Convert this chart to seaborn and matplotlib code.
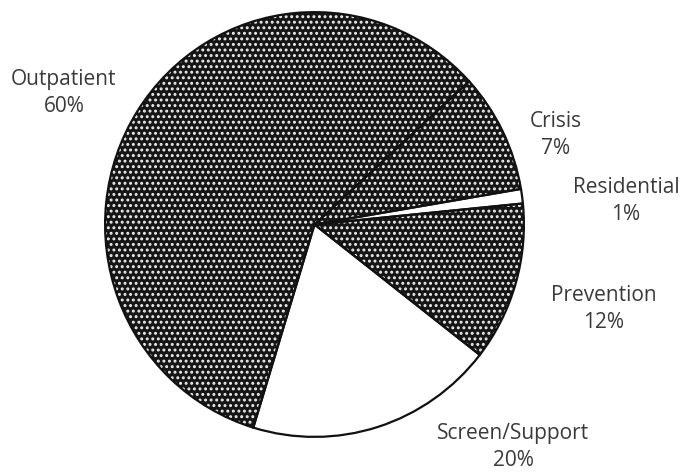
import matplotlib
matplotlib.use('Agg')
import matplotlib.pyplot as plt
import seaborn as sns

categories = ['Outpatient', 'Crisis', 'Residential', 'Prevention', 'Screen/Support']
shares = [58.5, 9.1, 1.1, 12.1, 19.2]
pct_labels = ['60%', '7%', '1%', '12%', '20%']
hatched = [True, True, False, True, False]


def main():
    sns.set_style('white')
    plt.rcParams['font.family'] = ['Open Sans', 'DejaVu Sans']
    plt.rcParams['hatch.linewidth'] = 1.35

    fig = plt.figure(figsize=(6.83, 4.73), dpi=100)
    # pie box in pixels: x 103..526, y 10..439
    ax = fig.add_axes([103 / 683, 34 / 473, 423 / 683, 429 / 473])

    face = ['#161616' if h else 'white' for h in hatched]
    kw = dict(startangle=253, counterclock=False, radius=1)

    ax.pie(shares, colors=face, wedgeprops=dict(linewidth=0), **kw)
    hatch_wedges, _ = ax.pie(shares, colors=face,
                             wedgeprops=dict(facecolor='none', edgecolor='#eeeeee', linewidth=0), **kw)
    for w, h in zip(hatch_wedges, hatched):
        if h:
            w.set_hatch('...')
        else:
            w.set_edgecolor('none')
    ax.pie(shares, wedgeprops=dict(facecolor='none', edgecolor='#111111', linewidth=1.6), **kw)

    ax.set_aspect('auto')
    ax.set_xlim(-1.01, 1.01)
    ax.set_ylim(-1.01, 1.01)

    # label anchors in figure pixels (centre of the two-line text)
    label_pos = [(64, 93), (556, 135), (626, 201), (604, 309), (513, 447)]
    for name, pct, (px, py) in zip(categories, pct_labels, label_pos):
        fig.text(px / 683, 1 - py / 473, f'{name}\n{pct}', ha='center', va='center',
                 fontsize=15, color='#3a3a3a', linespacing=1.35)

    fig.savefig('out.png', dpi=100)


if __name__ == '__main__':
    main()
